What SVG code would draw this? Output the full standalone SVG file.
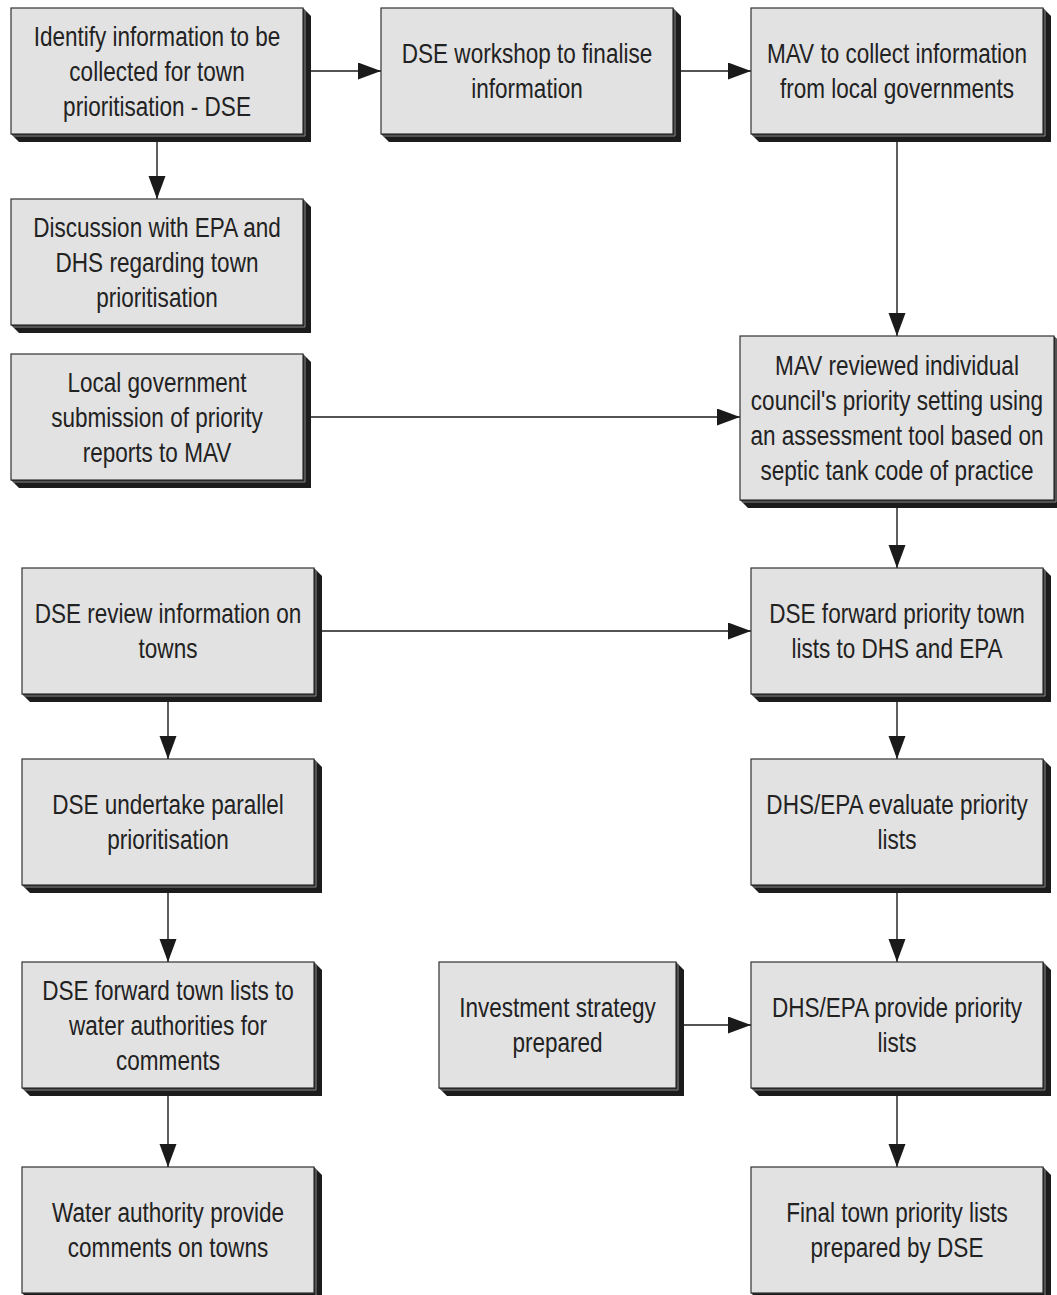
<svg xmlns="http://www.w3.org/2000/svg" width="1057" height="1295" viewBox="0 0 1057 1295">
<style>
.sh{fill:#1c1c1c}
.bx{fill:#e2e2e2;stroke:#333;stroke-width:1.2}
.hl{fill:none;stroke:#8a8a8a;stroke-width:1}
.t{font-family:"Liberation Sans",Arial,sans-serif;font-size:27.5px;fill:#222;text-anchor:middle}
.c{fill:none;stroke:#1a1a1a;stroke-width:1.4}
</style>
<defs>
<marker id="ah" markerUnits="userSpaceOnUse" markerWidth="24" markerHeight="18" refX="23" refY="8.5" orient="auto">
<path d="M0,0 L23,8.5 L0,17 z" fill="#1a1a1a"/>
</marker>
</defs>
<rect width="1057" height="1295" fill="#fff"/>

<g id="connectors">
<line class="c" x1="303" y1="71" x2="381" y2="71" marker-end="url(#ah)"/>
<line class="c" x1="157" y1="134" x2="157" y2="199" marker-end="url(#ah)"/>
<line class="c" x1="673" y1="71" x2="751" y2="71" marker-end="url(#ah)"/>
<line class="c" x1="897" y1="134" x2="897" y2="336" marker-end="url(#ah)"/>
<line class="c" x1="303" y1="417" x2="740" y2="417" marker-end="url(#ah)"/>
<line class="c" x1="897" y1="500" x2="897" y2="568" marker-end="url(#ah)"/>
<line class="c" x1="314" y1="631" x2="751" y2="631" marker-end="url(#ah)"/>
<line class="c" x1="168" y1="694" x2="168" y2="759" marker-end="url(#ah)"/>
<line class="c" x1="897" y1="694" x2="897" y2="759" marker-end="url(#ah)"/>
<line class="c" x1="168" y1="885" x2="168" y2="962" marker-end="url(#ah)"/>
<line class="c" x1="897" y1="885" x2="897" y2="962" marker-end="url(#ah)"/>
<line class="c" x1="676" y1="1025" x2="751" y2="1025" marker-end="url(#ah)"/>
<line class="c" x1="168" y1="1088" x2="168" y2="1167" marker-end="url(#ah)"/>
<line class="c" x1="897" y1="1088" x2="897" y2="1167" marker-end="url(#ah)"/>
</g>

<g id="nA">
<polygon class="sh" points="303,8 311,16 311,142 19,142 11,134"/>
<rect class="bx" x="11" y="8" width="292" height="126"/>
<polyline class="hl" points="305,10 305,136 13,136"/>
<g transform="translate(157 0) scale(0.82 1)"><text class="t"><tspan x="0" y="46">Identify information to be</tspan><tspan x="0" y="81">collected for town</tspan><tspan x="0" y="116">prioritisation - DSE</tspan></text></g>
</g>

<g id="nB">
<polygon class="sh" points="673,8 681,16 681,142 389,142 381,134"/>
<rect class="bx" x="381" y="8" width="292" height="126"/>
<polyline class="hl" points="675,10 675,136 383,136"/>
<g transform="translate(527 0) scale(0.82 1)"><text class="t"><tspan x="0" y="63.5">DSE workshop to finalise</tspan><tspan x="0" y="98.5">information</tspan></text></g>
</g>

<g id="nC">
<polygon class="sh" points="1043,8 1051,16 1051,142 759,142 751,134"/>
<rect class="bx" x="751" y="8" width="292" height="126"/>
<polyline class="hl" points="1045,10 1045,136 753,136"/>
<g transform="translate(897 0) scale(0.82 1)"><text class="t"><tspan x="0" y="63.5">MAV to collect information</tspan><tspan x="0" y="98.5">from local governments</tspan></text></g>
</g>

<g id="nD">
<polygon class="sh" points="303,199 311,207 311,333 19,333 11,325"/>
<rect class="bx" x="11" y="199" width="292" height="126"/>
<polyline class="hl" points="305,201 305,327 13,327"/>
<g transform="translate(157 0) scale(0.82 1)"><text class="t"><tspan x="0" y="237">Discussion with EPA and</tspan><tspan x="0" y="272">DHS regarding town</tspan><tspan x="0" y="307">prioritisation</tspan></text></g>
</g>

<g id="nE">
<polygon class="sh" points="303,354 311,362 311,488 19,488 11,480"/>
<rect class="bx" x="11" y="354" width="292" height="126"/>
<polyline class="hl" points="305,356 305,482 13,482"/>
<g transform="translate(157 0) scale(0.82 1)"><text class="t"><tspan x="0" y="392">Local government</tspan><tspan x="0" y="427">submission of priority</tspan><tspan x="0" y="462">reports to MAV</tspan></text></g>
</g>

<g id="nF">
<polygon class="sh" points="1054,336 1062,344 1062,508 748,508 740,500"/>
<rect class="bx" x="740" y="336" width="314" height="164"/>
<polyline class="hl" points="1056,338 1056,502 742,502"/>
<g transform="translate(897 0) scale(0.82 1)"><text class="t"><tspan x="0" y="375.5">MAV reviewed individual</tspan><tspan x="0" y="410.5">council's priority setting using</tspan><tspan x="0" y="445.5">an assessment tool based on</tspan><tspan x="0" y="480.5">septic tank code of practice</tspan></text></g>
</g>

<g id="nG">
<polygon class="sh" points="314,568 322,576 322,702 30,702 22,694"/>
<rect class="bx" x="22" y="568" width="292" height="126"/>
<polyline class="hl" points="316,570 316,696 24,696"/>
<g transform="translate(168 0) scale(0.82 1)"><text class="t"><tspan x="0" y="623.5">DSE review information on</tspan><tspan x="0" y="658.5">towns</tspan></text></g>
</g>

<g id="nH">
<polygon class="sh" points="1043,568 1051,576 1051,702 759,702 751,694"/>
<rect class="bx" x="751" y="568" width="292" height="126"/>
<polyline class="hl" points="1045,570 1045,696 753,696"/>
<g transform="translate(897 0) scale(0.82 1)"><text class="t"><tspan x="0" y="623.5">DSE forward priority town</tspan><tspan x="0" y="658.5">lists to DHS and EPA</tspan></text></g>
</g>

<g id="nI">
<polygon class="sh" points="314,759 322,767 322,893 30,893 22,885"/>
<rect class="bx" x="22" y="759" width="292" height="126"/>
<polyline class="hl" points="316,761 316,887 24,887"/>
<g transform="translate(168 0) scale(0.82 1)"><text class="t"><tspan x="0" y="814.5">DSE undertake parallel</tspan><tspan x="0" y="849.5">prioritisation</tspan></text></g>
</g>

<g id="nJ">
<polygon class="sh" points="1043,759 1051,767 1051,893 759,893 751,885"/>
<rect class="bx" x="751" y="759" width="292" height="126"/>
<polyline class="hl" points="1045,761 1045,887 753,887"/>
<g transform="translate(897 0) scale(0.82 1)"><text class="t"><tspan x="0" y="814.5">DHS/EPA evaluate priority</tspan><tspan x="0" y="849.5">lists</tspan></text></g>
</g>

<g id="nK">
<polygon class="sh" points="314,962 322,970 322,1096 30,1096 22,1088"/>
<rect class="bx" x="22" y="962" width="292" height="126"/>
<polyline class="hl" points="316,964 316,1090 24,1090"/>
<g transform="translate(168 0) scale(0.82 1)"><text class="t"><tspan x="0" y="1000">DSE forward town lists to</tspan><tspan x="0" y="1035">water authorities for</tspan><tspan x="0" y="1070">comments</tspan></text></g>
</g>

<g id="nL">
<polygon class="sh" points="676,962 684,970 684,1096 447,1096 439,1088"/>
<rect class="bx" x="439" y="962" width="237" height="126"/>
<polyline class="hl" points="678,964 678,1090 441,1090"/>
<g transform="translate(557.5 0) scale(0.82 1)"><text class="t"><tspan x="0" y="1017.5">Investment strategy</tspan><tspan x="0" y="1052.5">prepared</tspan></text></g>
</g>

<g id="nM">
<polygon class="sh" points="1043,962 1051,970 1051,1096 759,1096 751,1088"/>
<rect class="bx" x="751" y="962" width="292" height="126"/>
<polyline class="hl" points="1045,964 1045,1090 753,1090"/>
<g transform="translate(897 0) scale(0.82 1)"><text class="t"><tspan x="0" y="1017.5">DHS/EPA provide priority</tspan><tspan x="0" y="1052.5">lists</tspan></text></g>
</g>

<g id="nN">
<polygon class="sh" points="314,1167 322,1175 322,1301 30,1301 22,1293"/>
<rect class="bx" x="22" y="1167" width="292" height="126"/>
<polyline class="hl" points="316,1169 316,1295"/>
<g transform="translate(168 0) scale(0.82 1)"><text class="t"><tspan x="0" y="1222.5">Water authority provide</tspan><tspan x="0" y="1257.5">comments on towns</tspan></text></g>
</g>

<g id="nO">
<polygon class="sh" points="1043,1167 1051,1175 1051,1301 759,1301 751,1293"/>
<rect class="bx" x="751" y="1167" width="292" height="126"/>
<polyline class="hl" points="1045,1169 1045,1295"/>
<g transform="translate(897 0) scale(0.82 1)"><text class="t"><tspan x="0" y="1222.5">Final town priority lists</tspan><tspan x="0" y="1257.5">prepared by DSE</tspan></text></g>
</g>
</svg>
